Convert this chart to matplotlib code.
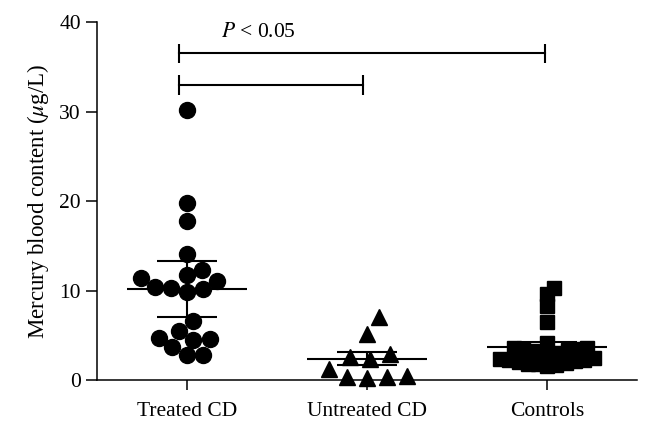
import numpy as np
import matplotlib
matplotlib.use("Agg")
import matplotlib.pyplot as plt

plt.rcParams['font.family'] = ['Liberation Serif', 'DejaVu Serif']
plt.rcParams['mathtext.fontset'] = 'stix'

# data
groups = ["Treated CD", "Untreated CD", "Controls"]
treated = [30.2, 19.8, 17.8, 14.1, 12.3, 11.7, 11.4, 11.1, 10.3, 10.2,
           10.4, 9.8, 6.6, 5.5, 4.7, 4.6, 4.5, 3.7, 2.8, 2.8]
untreated = [7.0, 5.2, 2.9, 2.6, 2.4, 1.3, 0.45, 0.3, 0.3, 0.2]
controls = [10.3, 9.6, 8.3, 6.5, 4.2, 3.6, 3.5, 3.4, 3.5, 3.6, 3.3, 3.0,
            2.8, 2.6, 2.4, 2.3, 2.2, 2.0, 1.9, 1.8, 1.8, 1.7, 1.6, 2.1, 2.5]
centers = [10.2, 2.35, 3.7]
err_low = [7.1, 1.7, 3.2]
err_high = [13.3, 3.1, 4.3]
markers = ['o', '^', 's']


def swarm(ax, x0, values, diam):
    # simple beeswarm in pixel space (diam below the marker size lets marks overlap)
    trans = ax.transData
    pts = trans.transform(np.column_stack([np.full(len(values), x0), values]))
    cx = pts[0, 0]
    placed = []
    xs = np.zeros(len(values))
    for i in np.argsort(values):
        y = pts[i, 1]
        cands = [0.0]
        for (px, py) in placed:
            dy = abs(py - y)
            if dy < diam:
                dx = np.sqrt(diam ** 2 - dy ** 2)
                cands += [px + dx, px - dx]
        for c in sorted(cands, key=abs):
            if all((c - px) ** 2 + (y - py) ** 2 >= diam ** 2 - 1e-6 for px, py in placed):
                break
        placed.append((c, y))
        xs[i] = trans.inverted().transform((cx + c, y))[0]
    return xs


fig = plt.figure(figsize=(6.5, 4.32), dpi=100)
ax = fig.add_axes([0.149, 0.12, 0.831, 0.829])
ax.set_xlim(0.5, 3.5)
ax.set_ylim(0, 40)

spacing = [16.5, 20, 9.5]
sizes = [11.5, 11, 10]
for k, (vals, m) in enumerate(zip([treated, untreated, controls], markers)):
    x0 = k + 1
    xs = swarm(ax, x0, vals, spacing[k])
    ax.plot(xs, vals, m, color='black', markersize=sizes[k], linestyle='none',
            clip_on=False, zorder=3)
    ax.hlines(centers[k], x0 - 0.333, x0 + 0.333, color='black', lw=1.5, zorder=4)
    ax.hlines([err_low[k], err_high[k]], x0 - 0.167, x0 + 0.167,
              color='black', lw=1.5, zorder=4)
    ax.vlines(x0, err_low[k], err_high[k], color='black', lw=1.5, zorder=4)

# significance brackets
ax.plot([0.955, 2.99], [36.5, 36.5], color='black', lw=1.5, clip_on=False)
ax.vlines([0.955, 2.99], 35.4, 37.6, color='black', lw=1.5, clip_on=False)
ax.plot([0.955, 1.98], [33.0, 33.0], color='black', lw=1.5, clip_on=False)
ax.vlines([0.955, 1.98], 31.9, 34.1, color='black', lw=1.5, clip_on=False)
ax.text(1.19, 38.8, r'$P$ < 0.05', fontsize=15.5, ha='left', va='center')

ax.set_xticks([1, 2, 3])
ax.set_xticklabels(groups, fontsize=15.5)
ax.set_yticks([0, 10, 20, 30, 40])
ax.tick_params(axis='y', labelsize=15.5, length=8, width=1.1, direction='out')
ax.tick_params(axis='x', length=7, width=1.1, direction='out', pad=9)
ax.set_ylabel(r'Mercury blood content ($\mu$g/L)', fontsize=16.5, labelpad=6)

for s in ['top', 'right']:
    ax.spines[s].set_visible(False)
for s in ['left', 'bottom']:
    ax.spines[s].set_linewidth(1.1)

fig.savefig('out.png', dpi=100)
